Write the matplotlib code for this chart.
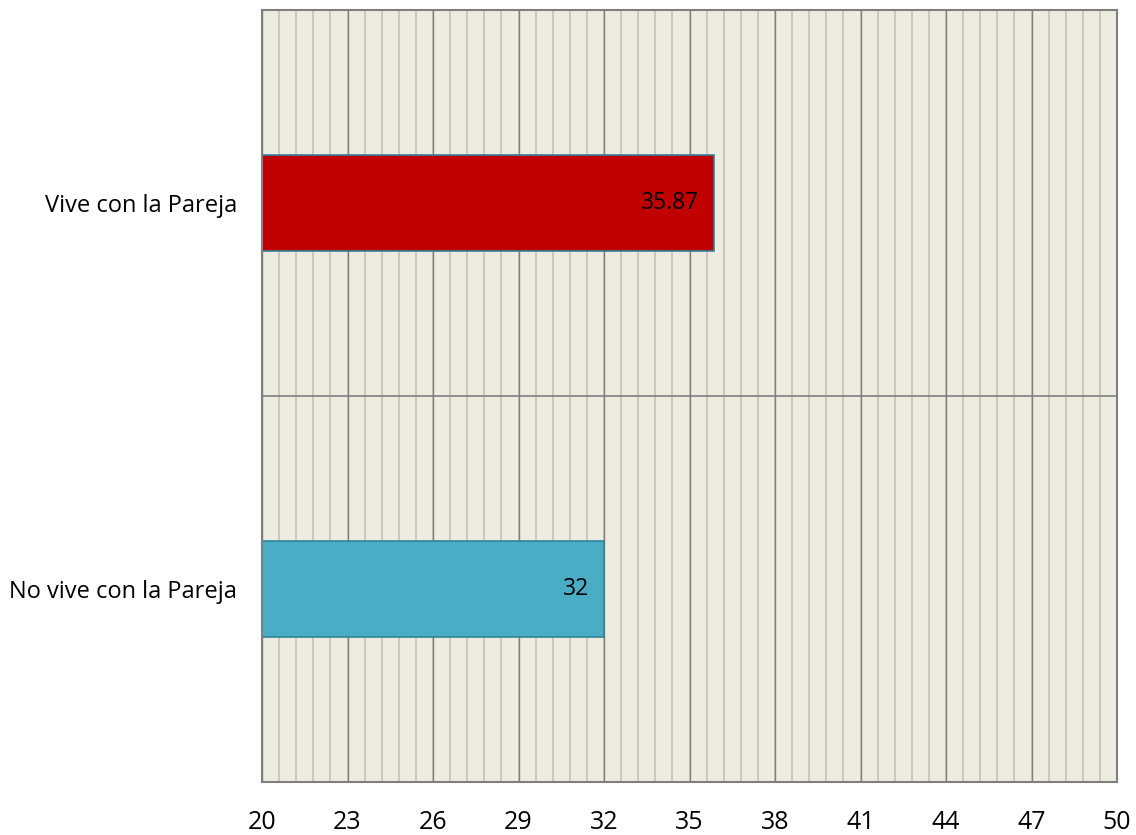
import matplotlib
matplotlib.use("Agg")
import matplotlib.pyplot as plt
import numpy as np

categories = ["No vive con la Pareja", "Vive con la Pareja"]
values = [32, 35.87]
value_labels = ["32", "35.87"]
bar_colors = ["#4BACC6", "#C00000"]
x_ticks = [20, 23, 26, 29, 32, 35, 38, 41, 44, 47, 50]

plt.rcParams['font.family'] = ['Open Sans', 'DejaVu Sans']

fig = plt.figure(figsize=(11.36, 8.35), dpi=100)
ax = fig.add_axes([262/1136, 1-782/835, (1117-262)/1136, (782-10)/835])
ax.set_facecolor("#EEECE1")

ax.set_xlim(20, 50)
ax.set_ylim(-0.5, 1.5)

# gridlines
for x in np.arange(20, 50.01, 0.6):
    ax.axvline(x, color="#C4C3B8", lw=1.2, zorder=1)
for x in x_ticks:
    ax.axvline(x, color="#7F7F7F", lw=1.0, zorder=1.5)
ax.axhline(0.5, color="#7F7F7F", lw=1.2, zorder=1.5)

y = np.arange(len(categories))
lefts = [20] * len(values)
widths = [v - 20 for v in values]
ax.barh(y, widths, left=lefts, height=0.25, color=bar_colors,
        edgecolor="#31849B", linewidth=1.2, zorder=3)

for yi, v, lab in zip(y, values, value_labels):
    ax.annotate(lab, xy=(v, yi), xytext=(-11, 0), textcoords="offset points",
                ha="right", va="center", fontsize=16.5, color="black", zorder=4)

ax.set_yticks(y)
ax.set_yticklabels(categories, fontsize=17)
ax.set_xticks(x_ticks)
ax.set_xticklabels([str(t) for t in x_ticks], fontsize=18)
ax.tick_params(axis="x", length=0, pad=20)
ax.tick_params(axis="y", length=0, pad=18)

for s in ax.spines.values():
    s.set_color("#7F7F7F")
    s.set_linewidth(1.5)
    s.set_zorder(5)

fig.savefig("out.png", dpi=100, facecolor="white")
